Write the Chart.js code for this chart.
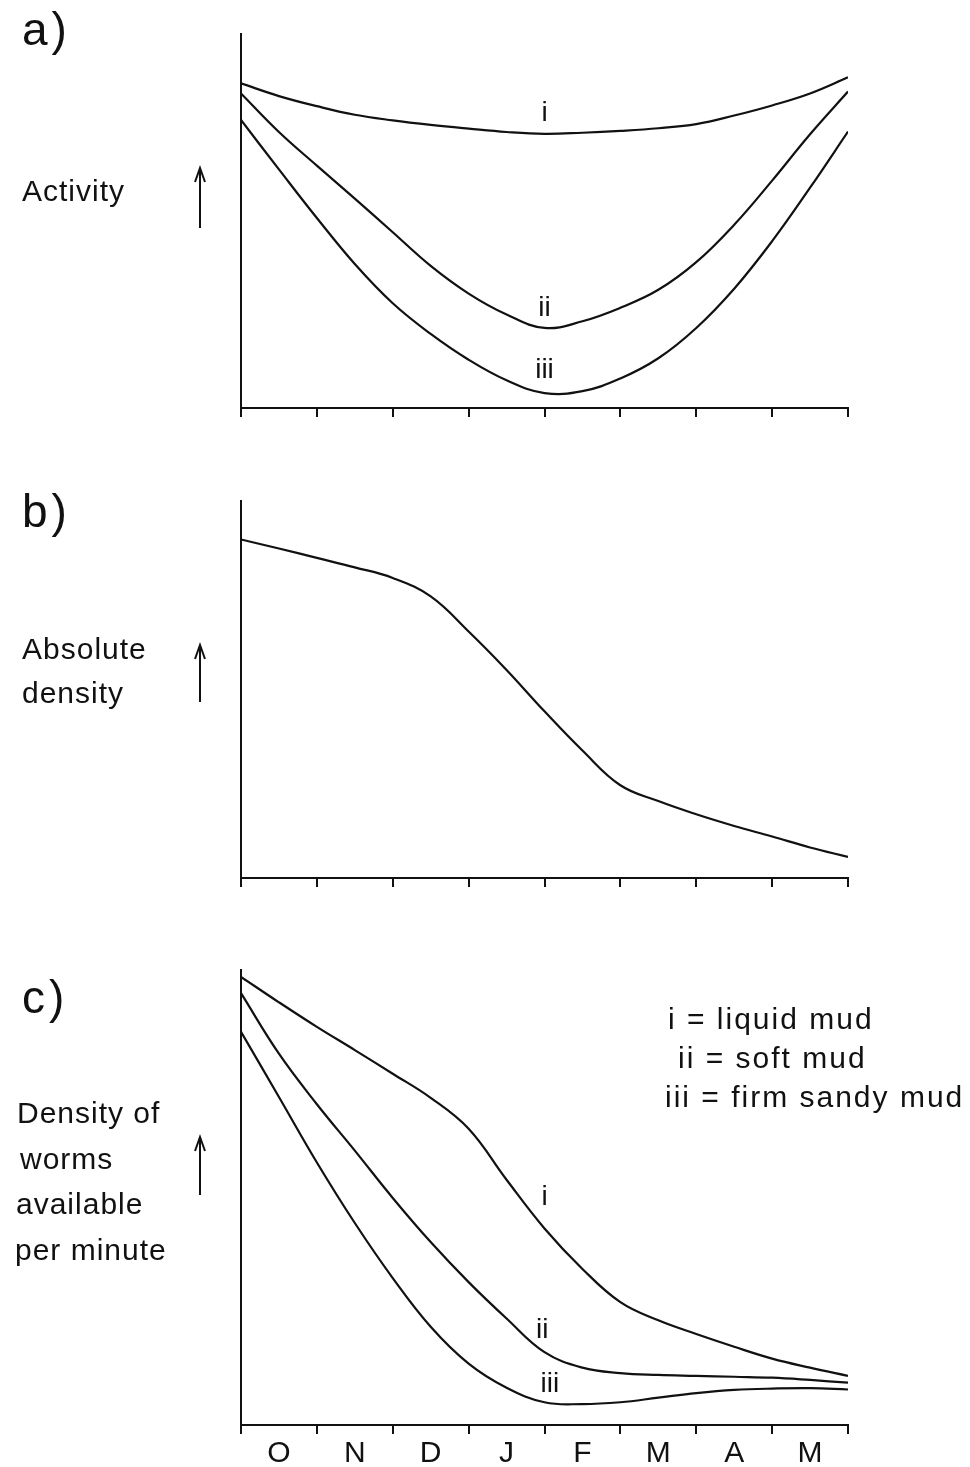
<!DOCTYPE html>
<html>
<head>
<meta charset="utf-8">
<script src="https://cdn.jsdelivr.net/npm/chart.js@4.4.0/dist/chart.umd.min.js"></script>
<style>
  body { margin: 0; background: #fff; }
  #page { position: relative; width: 970px; height: 1467px; overflow: hidden;
          font-family: 'Liberation Sans', 'DejaVu Sans', sans-serif; color: #111; }
  canvas { position: absolute; left: 0; }
  .txt { position: absolute; white-space: nowrap; line-height: 1; font-size: 30px; letter-spacing: 1px; }
  .key { letter-spacing: 2px; }
  .panel { font-size: 46px; letter-spacing: 4px; }
  svg { position: absolute; left: 0; top: 0; }
</style>
</head>
<body>
<div id="page">
  <canvas id="chartA" width="970" height="440" style="top:0px"></canvas>
  <canvas id="chartB" width="970" height="440" style="top:470px"></canvas>
  <canvas id="chartC" width="970" height="527" style="top:940px"></canvas>

  <div class="txt panel" style="left:22px;top:6px">a)</div>
  <div class="txt panel" style="left:22px;top:488px">b)</div>
  <div class="txt panel" style="left:22px;top:974px">c)</div>

  <div class="txt" style="left:22px;top:176px">Activity</div>
  <div class="txt" style="left:22px;top:634px">Absolute</div>
  <div class="txt" style="left:22px;top:678px">density</div>
  <div class="txt" style="left:17px;top:1098px">Density of</div>
  <div class="txt" style="left:20px;top:1144px">worms</div>
  <div class="txt" style="left:16px;top:1189px">available</div>
  <div class="txt" style="left:15px;top:1235px">per minute</div>

  <div class="txt key" style="left:668px;top:1004px">i = liquid mud</div>
  <div class="txt key" style="left:678px;top:1043px">ii = soft mud</div>
  <div class="txt key" style="left:665px;top:1082px">iii = firm sandy mud</div>

  <!-- upward arrows beside the axis titles -->
  <svg width="970" height="1467" fill="none" stroke="#111" stroke-width="2">
    <path d="M200 228 V170 M195 182 L200 168 L205 182"/>
    <path d="M200 702 V647 M195 659 L200 645 L205 659"/>
    <path d="M200 1195 V1139 M195 1151 L200 1137 L205 1151"/>
  </svg>
</div>

<script>
const monthLabels = ['O', 'N', 'D', 'J', 'F', 'M', 'A', 'M'];
// months since start of October
const monthPos = [0, 0.5, 1, 1.5, 2, 2.5, 3, 3.5, 4, 4.5, 5, 5.5, 6, 6.5, 7, 7.5, 8];

// a) activity
const activityLiquid = [86.8, 83.4, 80.7, 78.4, 76.9, 75.7, 74.7, 73.8, 73.3, 73.6, 74.1, 74.8, 75.9, 78.2, 80.9, 84.1, 88.4];
const activitySoft   = [84.1, 73.8, 64.8, 56.0, 47.0, 38.0, 30.6, 25.0, 21.4, 23.2, 26.8, 31.6, 39.0, 49.0, 60.8, 73.2, 84.6];
const activityFirm   = [77.0, 63.8, 50.8, 38.5, 28.0, 19.8, 12.9, 7.4, 4.0, 4.5, 7.9, 13.3, 21.4, 31.9, 44.6, 58.9, 73.9];

// b) absolute density
const absDensity = [89.8, 87.4, 84.9, 82.4, 79.6, 74.7, 65.4, 55.2, 44.2, 33.8, 24.6, 20.4, 16.9, 13.8, 11.0, 8.1, 5.6];

// c) density of worms available per minute
const availLiquid = [98.5, 92.9, 87.5, 82.4, 77.2, 71.9, 65.1, 53.9, 43.2, 34.3, 27.0, 23.0, 20.0, 17.2, 14.6, 12.6, 10.8];
const availSoft   = [94.9, 81.6, 70.5, 60.3, 49.9, 40.2, 31.4, 23.4, 16.0, 12.6, 11.4, 11.0, 10.8, 10.6, 10.4, 9.9, 9.3];
const availFirm   = [86.4, 72.1, 57.7, 44.4, 32.3, 21.6, 13.5, 8.2, 5.0, 4.6, 5.0, 6.0, 7.0, 7.7, 8.0, 8.1, 7.8];

// curve tags: [text, month, value]
const activityTags = [['i', 4.0, 78.9], ['ii', 4.0, 26.7], ['iii', 4.0, 10.2]];
const availTags = [['i', 4.0, 50.1], ['ii', 3.97, 20.9], ['iii', 4.07, 9.0]];

const INK = '#111';
const FONT = "'Liberation Sans', 'DejaVu Sans', sans-serif";

// writes the i / ii / iii tags next to the curves
const curveTags = {
  id: 'curveTags',
  afterDatasetsDraw(chart, args, opts) {
    const ctx = chart.ctx;
    const xs = chart.scales.x, ys = chart.scales.y;
    ctx.save();
    ctx.fillStyle = INK;
    ctx.font = '28px ' + FONT;
    ctx.textAlign = 'center';
    ctx.textBaseline = 'middle';
    (opts.tags || []).forEach(t => {
      ctx.fillText(t[0], xs.getPixelForValue(t[1]), ys.getPixelForValue(t[2]));
    });
    ctx.restore();
  }
};

function toPoints(vals) {
  return monthPos.map((m, i) => ({ x: m, y: vals[i] }));
}

function makePanel(id, series, tags, showMonths, pad) {
  return new Chart(document.getElementById(id), {
    type: 'line',
    data: {
      datasets: series.map(s => ({
        data: toPoints(s),
        borderColor: INK,
        borderWidth: 2.2,
        pointRadius: 0,
        fill: false,
        tension: 0.4
      }))
    },
    options: {
      responsive: false,
      animation: false,
      layout: { padding: pad },
      plugins: {
        legend: { display: false },
        tooltip: { enabled: false },
        curveTags: { tags: tags }
      },
      scales: {
        x: { type: 'linear', min: 0, max: 8, display: false },
        month: {
          type: 'category',
          labels: monthLabels,
          position: 'bottom',
          offset: true,
          grid: { offset: true, drawOnChartArea: false, tickLength: 9, color: INK, lineWidth: 2 },
          border: { color: INK, width: 2 },
          ticks: {
            display: showMonths, color: INK, padding: 2, autoSkip: false, maxRotation: 0,
            font: { family: FONT, size: 30 }
          },
          afterFit: s => { s.height = showMonths ? 42 : 10; }
        },
        y: {
          min: 0, max: 100,
          grid: { display: false },
          ticks: { display: false },
          border: { color: INK, width: 2 },
          afterFit: s => { s.width = 0; }
        }
      }
    },
    plugins: [curveTags]
  });
}

makePanel('chartA', [activityLiquid, activitySoft, activityFirm], activityTags, false,
  { left: 241, right: 122, top: 34, bottom: 22 });
makePanel('chartB', [absDensity], [], false,
  { left: 241, right: 122, top: 31, bottom: 22 });
makePanel('chartC', [availLiquid, availSoft, availFirm], availTags, true,
  { left: 241, right: 122, top: 30, bottom: 0 });
</script>
</body>
</html>
